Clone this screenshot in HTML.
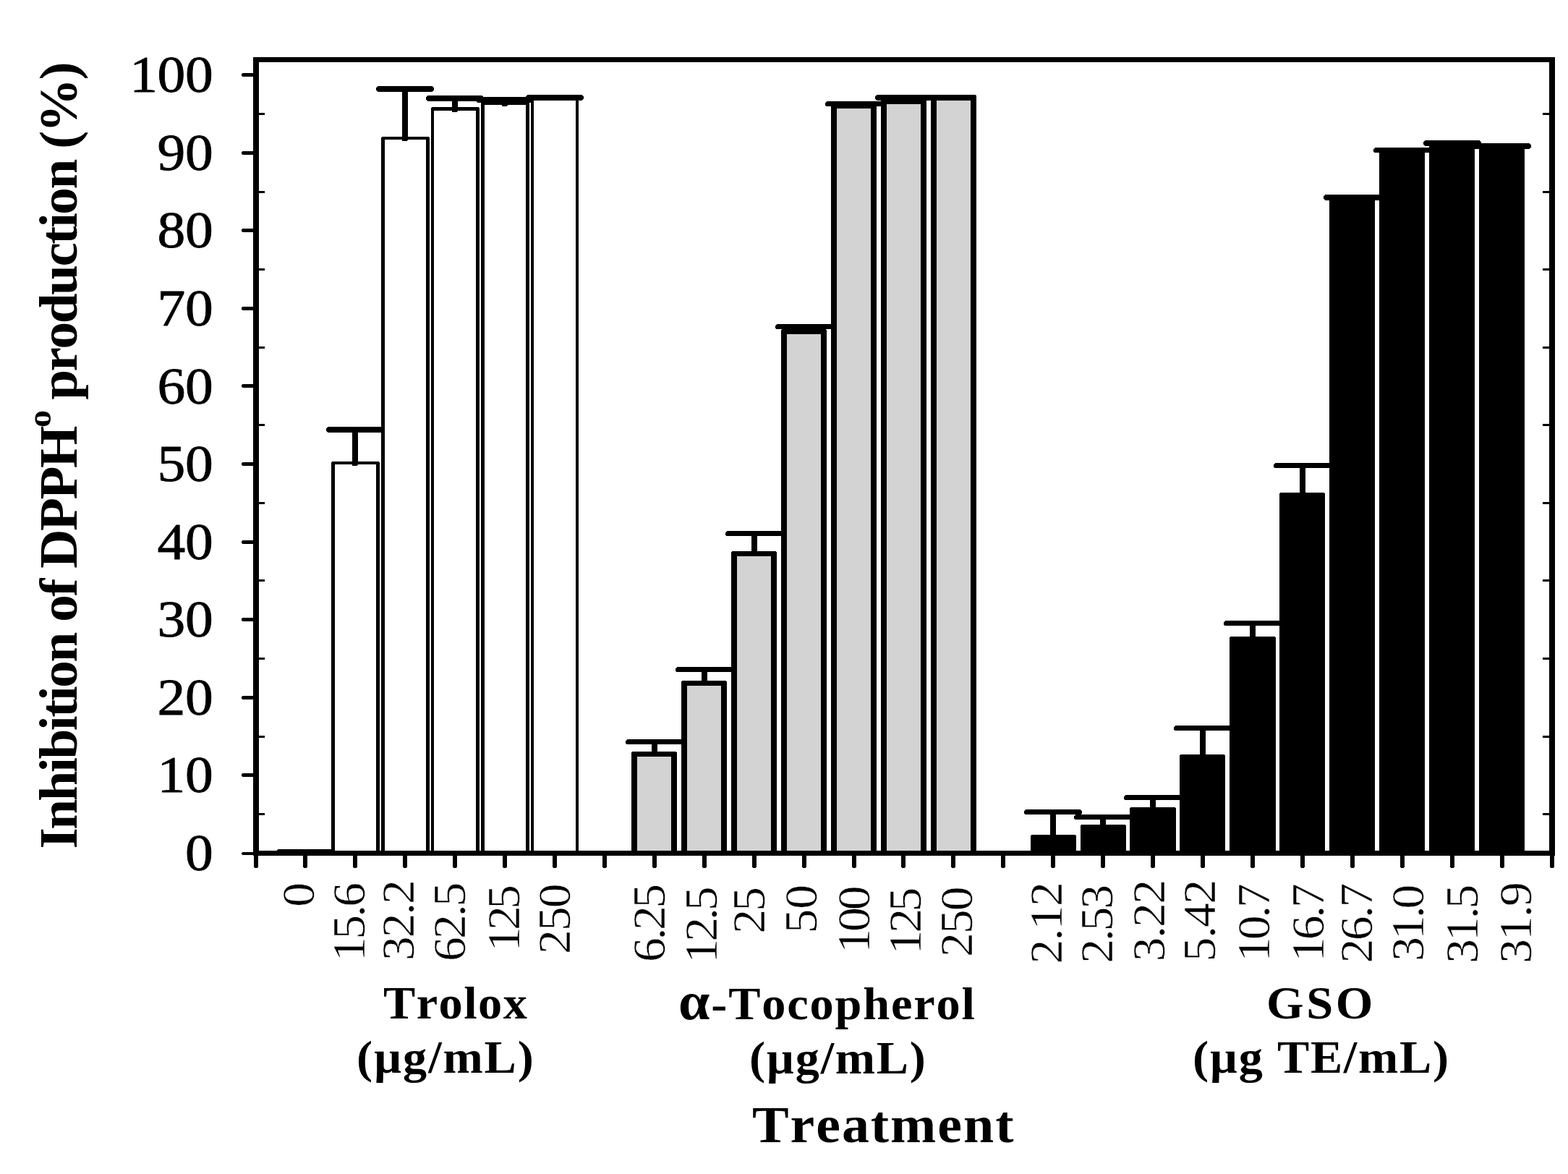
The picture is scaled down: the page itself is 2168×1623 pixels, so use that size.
<!DOCTYPE html>
<html lang="en"><head><meta charset="utf-8"><title>Inhibition of DPPH production</title>
<style>html,body{margin:0;padding:0;background:#fff}svg{display:block}text{font-kerning:none}.n{font-family:"Liberation Serif",serif;fill:#000}.b{font-family:"Liberation Serif",serif;font-weight:bold;fill:#000}</style></head><body>
<svg width="2168" height="1623" viewBox="0 0 2168 1623">
<rect width="2168" height="1623" fill="#fff"/>
<g shape-rendering="crispEdges">
<rect x="382" y="1174" width="80" height="8" rx="4.0" fill="#000"/>
<rect x="458" y="638" width="67" height="542" rx="2.5" fill="#000"/>
<rect x="463" y="642" width="57" height="538" fill="#fff"/>
<rect x="487" y="591" width="8" height="53" rx="2" fill="#000"/>
<rect x="451" y="590" width="80" height="8" rx="4.0" fill="#000"/>
<rect x="527" y="189" width="67" height="991" rx="2.5" fill="#000"/>
<rect x="532" y="193" width="57" height="987" fill="#fff"/>
<rect x="556" y="120" width="8" height="75" rx="2" fill="#000"/>
<rect x="520" y="119" width="80" height="8" rx="4.0" fill="#000"/>
<rect x="596" y="148" width="67" height="1032" rx="2.5" fill="#000"/>
<rect x="600" y="153" width="58" height="1027" fill="#fff"/>
<rect x="625" y="133" width="8" height="22" rx="2" fill="#000"/>
<rect x="589" y="132" width="80" height="8" rx="4.0" fill="#000"/>
<rect x="665" y="141" width="67" height="1039" rx="2.5" fill="#000"/>
<rect x="670" y="145" width="57" height="1035" fill="#fff"/>
<rect x="694" y="135" width="8" height="12" rx="2" fill="#000"/>
<rect x="658" y="134" width="80" height="8" rx="4.0" fill="#000"/>
<rect x="734" y="135" width="66" height="1045" rx="2.5" fill="#000"/>
<rect x="738" y="139" width="58" height="1041" fill="#fff"/>
<rect x="727" y="131" width="80" height="8" rx="4.0" fill="#000"/>
<rect x="873" y="1039" width="63" height="141" rx="2.5" fill="#000"/>
<rect x="881" y="1046" width="47" height="134" fill="#d3d3d3"/>
<rect x="901" y="1023" width="8" height="22" rx="2" fill="#000"/>
<rect x="865" y="1022" width="80" height="7" rx="3.5" fill="#000"/>
<rect x="942" y="941" width="63" height="239" rx="2.5" fill="#000"/>
<rect x="950" y="948" width="47" height="232" fill="#d3d3d3"/>
<rect x="970" y="923" width="8" height="24" rx="2" fill="#000"/>
<rect x="934" y="922" width="80" height="7" rx="3.5" fill="#000"/>
<rect x="1011" y="762" width="63" height="418" rx="2.5" fill="#000"/>
<rect x="1019" y="769" width="47" height="411" fill="#d3d3d3"/>
<rect x="1039" y="735" width="8" height="33" rx="2" fill="#000"/>
<rect x="1003" y="734" width="80" height="7" rx="3.5" fill="#000"/>
<rect x="1080" y="455" width="63" height="725" rx="2.5" fill="#000"/>
<rect x="1088" y="462" width="47" height="718" fill="#d3d3d3"/>
<rect x="1108" y="449" width="8" height="12" rx="2" fill="#000"/>
<rect x="1072" y="448" width="80" height="7" rx="3.5" fill="#000"/>
<rect x="1149" y="143" width="63" height="1037" rx="2.5" fill="#000"/>
<rect x="1157" y="150" width="47" height="1030" fill="#d3d3d3"/>
<rect x="1177" y="141" width="8" height="8" rx="2" fill="#000"/>
<rect x="1141" y="140" width="80" height="7" rx="3.5" fill="#000"/>
<rect x="1218" y="137" width="63" height="1043" rx="2.5" fill="#000"/>
<rect x="1226" y="144" width="47" height="1036" fill="#d3d3d3"/>
<rect x="1246" y="132" width="8" height="11" rx="2" fill="#000"/>
<rect x="1210" y="131" width="80" height="8" rx="4.0" fill="#000"/>
<rect x="1287" y="131" width="63" height="1049" rx="2.5" fill="#000"/>
<rect x="1295" y="139" width="47" height="1041" fill="#d3d3d3"/>
<rect x="1425" y="1154" width="63" height="26" rx="2.5" fill="#000"/>
<rect x="1452" y="1120" width="8" height="37" rx="2" fill="#000"/>
<rect x="1416" y="1119" width="80" height="7" rx="3.5" fill="#000"/>
<rect x="1494" y="1140" width="63" height="40" rx="2.5" fill="#000"/>
<rect x="1521" y="1127" width="8" height="16" rx="2" fill="#000"/>
<rect x="1485" y="1126" width="80" height="7" rx="3.5" fill="#000"/>
<rect x="1562" y="1116" width="64" height="64" rx="2.5" fill="#000"/>
<rect x="1590" y="1100" width="8" height="19" rx="2" fill="#000"/>
<rect x="1554" y="1099" width="80" height="7" rx="3.5" fill="#000"/>
<rect x="1631" y="1043" width="63" height="137" rx="2.5" fill="#000"/>
<rect x="1659" y="1004" width="8" height="42" rx="2" fill="#000"/>
<rect x="1623" y="1003" width="80" height="7" rx="3.5" fill="#000"/>
<rect x="1700" y="880" width="64" height="300" rx="2.5" fill="#000"/>
<rect x="1728" y="859" width="8" height="24" rx="2" fill="#000"/>
<rect x="1692" y="858" width="80" height="7" rx="3.5" fill="#000"/>
<rect x="1769" y="681" width="63" height="499" rx="2.5" fill="#000"/>
<rect x="1797" y="641" width="8" height="43" rx="2" fill="#000"/>
<rect x="1761" y="640" width="80" height="7" rx="3.5" fill="#000"/>
<rect x="1838" y="271" width="63" height="909" rx="2.5" fill="#000"/>
<rect x="1830" y="269" width="80" height="8" rx="4.0" fill="#000"/>
<rect x="1907" y="206" width="63" height="974" rx="2.5" fill="#000"/>
<rect x="1899" y="204" width="80" height="7" rx="3.5" fill="#000"/>
<rect x="1976" y="196" width="63" height="984" rx="2.5" fill="#000"/>
<rect x="1968" y="194" width="80" height="8" rx="4.0" fill="#000"/>
<rect x="2045" y="200" width="63" height="980" rx="2.5" fill="#000"/>
<rect x="2037" y="198" width="80" height="8" rx="4.0" fill="#000"/>
</g>
<g fill="#000" shape-rendering="crispEdges">
<rect x="350" y="79" width="8" height="1104"/>
<rect x="2142" y="79" width="8" height="1104"/>
<rect x="350" y="79" width="1800" height="7"/>
<rect x="350" y="1176" width="1800" height="7"/>
</g>
<g fill="#000" shape-rendering="crispEdges">
<rect x="334" y="1178" width="18" height="4" rx="2.5"/>
<rect x="334" y="1069" width="18" height="5" rx="2.5"/>
<rect x="334" y="962" width="18" height="5" rx="2.5"/>
<rect x="334" y="854" width="18" height="5" rx="2.5"/>
<rect x="334" y="747" width="18" height="5" rx="2.5"/>
<rect x="334" y="639" width="18" height="5" rx="2.5"/>
<rect x="334" y="531" width="18" height="5" rx="2.5"/>
<rect x="334" y="424" width="18" height="5" rx="2.5"/>
<rect x="334" y="316" width="18" height="5" rx="2.5"/>
<rect x="334" y="209" width="18" height="5" rx="2.5"/>
<rect x="334" y="101" width="18" height="5" rx="2.5"/>
<rect x="356" y="1124" width="10" height="3" rx="1"/>
<rect x="2133" y="1124" width="11" height="3" rx="1"/>
<rect x="356" y="1017" width="10" height="3" rx="1"/>
<rect x="2133" y="1017" width="11" height="3" rx="1"/>
<rect x="356" y="909" width="10" height="3" rx="1"/>
<rect x="2133" y="909" width="11" height="3" rx="1"/>
<rect x="356" y="801" width="10" height="3" rx="1"/>
<rect x="2133" y="801" width="11" height="3" rx="1"/>
<rect x="356" y="694" width="10" height="3" rx="1"/>
<rect x="2133" y="694" width="11" height="3" rx="1"/>
<rect x="356" y="586" width="10" height="3" rx="1"/>
<rect x="2133" y="586" width="11" height="3" rx="1"/>
<rect x="356" y="479" width="10" height="3" rx="1"/>
<rect x="2133" y="479" width="11" height="3" rx="1"/>
<rect x="356" y="371" width="10" height="3" rx="1"/>
<rect x="2133" y="371" width="11" height="3" rx="1"/>
<rect x="356" y="264" width="10" height="3" rx="1"/>
<rect x="2133" y="264" width="11" height="3" rx="1"/>
<rect x="356" y="156" width="10" height="3" rx="1"/>
<rect x="2133" y="156" width="11" height="3" rx="1"/>
<rect x="351" y="1180" width="6" height="20" rx="2.5"/>
<rect x="419" y="1180" width="6" height="20" rx="2.5"/>
<rect x="488" y="1180" width="6" height="20" rx="2.5"/>
<rect x="557" y="1180" width="6" height="20" rx="2.5"/>
<rect x="626" y="1180" width="6" height="20" rx="2.5"/>
<rect x="695" y="1180" width="6" height="20" rx="2.5"/>
<rect x="764" y="1180" width="6" height="20" rx="2.5"/>
<rect x="833" y="1180" width="6" height="20" rx="2.5"/>
<rect x="902" y="1180" width="6" height="20" rx="2.5"/>
<rect x="971" y="1180" width="6" height="20" rx="2.5"/>
<rect x="1040" y="1180" width="6" height="20" rx="2.5"/>
<rect x="1109" y="1180" width="6" height="20" rx="2.5"/>
<rect x="1178" y="1180" width="6" height="20" rx="2.5"/>
<rect x="1246" y="1180" width="6" height="20" rx="2.5"/>
<rect x="1315" y="1180" width="6" height="20" rx="2.5"/>
<rect x="1384" y="1180" width="6" height="20" rx="2.5"/>
<rect x="1453" y="1180" width="6" height="20" rx="2.5"/>
<rect x="1522" y="1180" width="6" height="20" rx="2.5"/>
<rect x="1591" y="1180" width="6" height="20" rx="2.5"/>
<rect x="1660" y="1180" width="6" height="20" rx="2.5"/>
<rect x="1729" y="1180" width="6" height="20" rx="2.5"/>
<rect x="1798" y="1180" width="6" height="20" rx="2.5"/>
<rect x="1867" y="1180" width="6" height="20" rx="2.5"/>
<rect x="1936" y="1180" width="6" height="20" rx="2.5"/>
<rect x="2005" y="1180" width="6" height="20" rx="2.5"/>
<rect x="2074" y="1180" width="6" height="20" rx="2.5"/>
<rect x="2143" y="1180" width="6" height="20" rx="2.5"/>
</g>
<g class="n" font-size="71.5" text-anchor="end" letter-spacing="-0.4" stroke="#000" stroke-width="0.8" stroke-linejoin="round">
<text transform="translate(294.30,127.30) scale(1.085,1)">100</text>
<text transform="translate(294.30,234.87) scale(1.085,1)">90</text>
<text transform="translate(294.30,342.44) scale(1.085,1)">80</text>
<text transform="translate(294.30,450.01) scale(1.085,1)">70</text>
<text transform="translate(294.30,557.58) scale(1.085,1)">60</text>
<text transform="translate(294.30,665.15) scale(1.085,1)">50</text>
<text transform="translate(294.30,772.72) scale(1.085,1)">40</text>
<text transform="translate(294.30,880.29) scale(1.085,1)">30</text>
<text transform="translate(294.30,987.86) scale(1.085,1)">20</text>
<text transform="translate(294.30,1095.43) scale(1.085,1)">10</text>
<text transform="translate(294.30,1203.00) scale(1.085,1)">0</text>
</g>
<g class="n" font-size="62.5" text-anchor="end" letter-spacing="-2.3" stroke="#fff" stroke-width="0.5">
<text transform="translate(434.10,1222.60) rotate(-90) scale(1.08,1)" letter-spacing="-2.3">0</text>
<text transform="translate(503.50,1223.10) rotate(-90) scale(1.08,1)" letter-spacing="-2.8">15.6</text>
<text transform="translate(572.40,1218.20) rotate(-90) scale(1.08,1)" letter-spacing="-1.91">32.2</text>
<text transform="translate(643.20,1222.30) rotate(-90) scale(1.08,1)" letter-spacing="-2.65">62.5</text>
<text transform="translate(717.60,1227.50) rotate(-90) scale(1.08,1)" letter-spacing="-4.15">125</text>
<text transform="translate(787.90,1223.30) rotate(-90) scale(1.08,1)" letter-spacing="-1.72">250</text>
<text transform="translate(918.90,1224.90) rotate(-90) scale(1.08,1)" letter-spacing="-2.99">6.25</text>
<text transform="translate(990.60,1229.00) rotate(-90) scale(1.08,1)" letter-spacing="-3.56">12.5</text>
<text transform="translate(1057.20,1228.50) rotate(-90) scale(1.08,1)" letter-spacing="-2.4">25</text>
<text transform="translate(1128.50,1223.00) rotate(-90) scale(1.08,1)" letter-spacing="-0.08">50</text>
<text transform="translate(1201.90,1228.40) rotate(-90) scale(1.08,1)" letter-spacing="-3.68">100</text>
<text transform="translate(1272.60,1230.50) rotate(-90) scale(1.08,1)" letter-spacing="-3.78">125</text>
<text transform="translate(1344.10,1227.40) rotate(-90) scale(1.08,1)" letter-spacing="-1.77">250</text>
<text transform="translate(1467.80,1220.90) rotate(-90) scale(1.08,1)" letter-spacing="-1.5">2.12</text>
<text transform="translate(1538.20,1225.90) rotate(-90) scale(1.08,1)" letter-spacing="-2.82">2.53</text>
<text transform="translate(1610.00,1217.80) rotate(-90) scale(1.08,1)" letter-spacing="-1.57">3.22</text>
<text transform="translate(1680.00,1217.80) rotate(-90) scale(1.08,1)" letter-spacing="-1.56">5.42</text>
<text transform="translate(1755.30,1224.60) rotate(-90) scale(1.08,1)" letter-spacing="-3.03">10.7</text>
<text transform="translate(1829.60,1224.60) rotate(-90) scale(1.08,1)" letter-spacing="-3.03">16.7</text>
<text transform="translate(1896.70,1223.20) rotate(-90) scale(1.08,1)" letter-spacing="-2.25">26.7</text>
<text transform="translate(1967.50,1226.90) rotate(-90) scale(1.08,1)" letter-spacing="-3.79">31.0</text>
<text transform="translate(2042.70,1225.60) rotate(-90) scale(1.08,1)" letter-spacing="-2.79">31.5</text>
<text transform="translate(2116.90,1221.20) rotate(-90) scale(1.08,1)" letter-spacing="-1.75">31.9</text>
</g>
<g class="b">
<text font-size="63" transform="translate(530.00,1408.00) scale(1.053,1)" letter-spacing="1.37">Trolox</text>
<text font-size="63" transform="translate(493.00,1483.00) scale(1.053,1)" letter-spacing="1.79">(µg/mL)</text>
<text font-size="63" transform="translate(938.00,1408.50) scale(1.053,1)" letter-spacing="1.73"><tspan font-size="74">α</tspan>-Tocopherol</text>
<text font-size="63" transform="translate(1036.00,1483.50) scale(1.053,1)" letter-spacing="1.64">(µg/mL)</text>
<text font-size="63" transform="translate(1751.00,1408.00) scale(1.053,1)" letter-spacing="3.47">GSO</text>
<text font-size="63" transform="translate(1649.00,1483.00) scale(1.053,1)" letter-spacing="1.63">(µg TE/mL)</text>
<text font-size="72" transform="translate(1040.00,1579.00) scale(1.055,1)" letter-spacing="1.85">Treatment</text>
</g>
<text class="b" font-size="73" letter-spacing="-2.37" word-spacing="0" transform="translate(105.50,1173.60) rotate(-90) scale(1.03,1)">Inhibition of DPPH<tspan font-size="47" dy="-35.5">o</tspan><tspan dy="35.5"> production (%)</tspan></text>
</svg>
</body></html>
